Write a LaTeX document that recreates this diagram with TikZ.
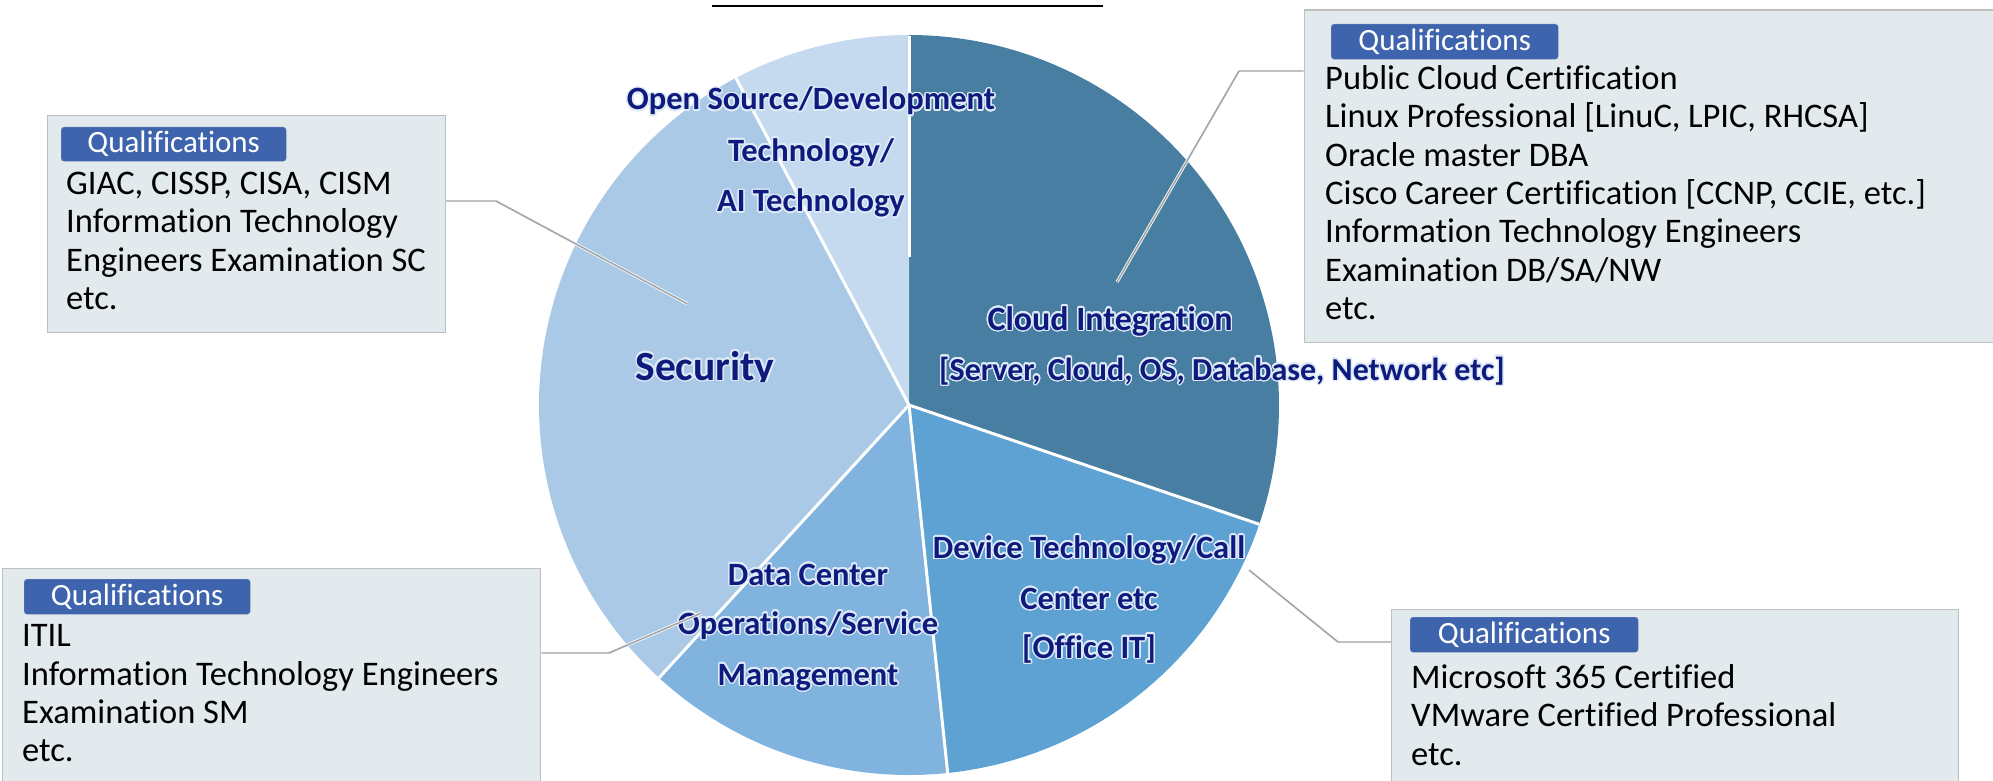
\documentclass[tikz,border=0pt]{standalone}
\usepackage{fontspec}
\setmainfont{Carlito}[Ligatures={NoCommon,NoContextual,NoRequired}]
\usepackage{contour}
\contourlength{1.4pt}
\contournumber{32}
\definecolor{cloudc}{RGB}{71,126,161}
\definecolor{devc}{RGB}{94,162,211}
\definecolor{dcc}{RGB}{128,180,223}
\definecolor{secc}{RGB}{169,201,231}
\definecolor{ossc}{RGB}{197,218,238}
\definecolor{boxfill}{RGB}{227,234,237}
\definecolor{boxborder}{RGB}{190,190,190}
\definecolor{tagc}{RGB}{62,100,173}
\definecolor{labelc}{RGB}{14,27,125}
\definecolor{glowc}{RGB}{222,234,247}
\definecolor{calloutc}{RGB}{160,160,160}
\newcommand\glow[1]{\contour{glowc}{#1}}
\tikzset{
  qbox/.style={draw=boxborder, fill=boxfill, line width=1.3, anchor=north west, inner sep=0},
  tag/.style={fill=tagc, draw=tagc!80!white, rounded corners=3, text=white,
    font=\fontsize{31}{31}\selectfont, anchor=north west, inner sep=0},
  body/.style={font=\fontsize{34.5}{38}\selectfont, anchor=base west, inner sep=0, text=black},
  pielabel/.style={font=\bfseries\fontsize{32.5}{33}\selectfont, text=labelc, anchor=base, inner sep=0},
  callout/.style={draw=calloutc, line width=1.4},
  halo/.style={draw=white!60!glowc, line width=3.2},
  sep/.style={draw=white, line width=3}
}
\begin{document}
\begin{tikzpicture}[x=1pt,y=1pt]
\useasboundingbox (0,0) rectangle (1993,-781);
\clip (0,0) rectangle (1993,-781);

% top rule
\draw[line width=2.7] (712,-6) -- (1103,-6);

% pie
\coordinate (O) at (909,-405);
\def\R{370}
\fill[cloudc] (O) -- ++(90:\R) arc[start angle=90,end angle=-18.8,radius=\R] -- cycle;
\fill[devc] (O) -- ++(-18.8:\R) arc[start angle=-18.8,end angle=-84,radius=\R] -- cycle;
\fill[dcc] (O) -- ++(-84:\R) arc[start angle=-84,end angle=-132.5,radius=\R] -- cycle;
\fill[secc] (O) -- ++(-132.5:\R) arc[start angle=-132.5,end angle=-242.1,radius=\R] -- cycle;
\fill[ossc] (O) -- ++(117.9:\R) arc[start angle=117.9,end angle=90,radius=\R] -- cycle;
\draw[sep] (O) -- ++(-18.8:\R);
\draw[sep] (O) -- ++(-84:\R);
\draw[sep] (O) -- ++(-132.5:\R);
\draw[sep] (O) -- ++(117.9:\R);
\draw[sep] (909,-36) -- (909,-257);

% pie labels
\node[pielabel] (l1) at (811,-110) {\glow{Open Source/Development}};
\node[pielabel] (l2) at (811,-161) {\glow{Technology/}};
\node[pielabel] (l3) at (811,-211.7) {\glow{AI Technology}};
\begin{scope}
\clip (560,-300) rectangle (860,-381);
\node[pielabel, font=\bfseries\fontsize{41.5}{42}\selectfont] (l4) at (705,-380) {\glow{Security}};
\end{scope}
\node[pielabel, font=\bfseries\fontsize{34}{34}\selectfont] (l5) at (1110,-330) {\glow{Cloud Integration}};
\node[pielabel, font=\bfseries\fontsize{32}{32}\selectfont] (l6) at (1222,-380) {\glow{[Server, Cloud, OS, Database, Network etc]}};
\node[pielabel] (l7) at (1089,-558.3) {\glow{Device Technology/Call}};
\node[pielabel] (l8) at (1089,-609.3) {\glow{Center etc}};
\node[pielabel] (l9) at (1089,-658) {\glow{[Office IT]}};
\node[pielabel] (l10) at (808,-585) {\glow{Data Center}};
\node[pielabel] (l11) at (808,-634) {\glow{Operations/Service}};
\node[pielabel] (l12) at (808,-685) {\glow{Management}};

% boxes
\node[qbox, minimum width=398, minimum height=217] (secbox) at (46.5,-115) {};
\node[qbox, minimum width=720, minimum height=332.4] (cloudbox) at (1303.6,-9.3) {};
\node[qbox, minimum width=538, minimum height=260] (dcbox) at (2,-567.7) {};
\node[qbox, minimum width=567, minimum height=200] (devbox) at (1391,-609) {};

% tags
\node[tag, minimum width=225, minimum height=34] (t1) at (61,-127) {Qualifications};
\node[tag, minimum width=227, minimum height=35] (t2) at (1331,-24) {Qualifications};
\node[tag, minimum width=226, minimum height=35] (t3) at (24,-579) {Qualifications};
\node[tag, minimum width=228, minimum height=35] (t4) at (1410,-617) {Qualifications};

% body text
\node[body] (s1) at (66,-194) {GIAC, CISSP, CISA, CISM};
\node[body] (s2) at (66,-232.5) {Information Technology};
\node[body] (s3) at (66,-271) {Engineers Examination SC};
\node[body] (s4) at (66,-309.5) {etc.};

\node[body] (c1) at (1325,-89.3) {Public Cloud Certification};
\node[body] (c2) at (1325,-127.6) {Linux Professional [LinuC, LPIC, RHCSA]};
\node[body] (c3) at (1325,-166) {Oracle master DBA};
\node[body] (c4) at (1325,-204.3) {Cisco Career Certification [CCNP, CCIE, etc.]};
\node[body] (c5) at (1325,-242.6) {Information Technology Engineers};
\node[body] (c6) at (1325,-281) {Examination DB/SA/NW};
\node[body] (c7) at (1325,-319.3) {etc.};

\node[body] (d1) at (22,-646.7) {ITIL};
\node[body] (d2) at (22,-685) {Information Technology Engineers};
\node[body] (d3) at (22,-723.3) {Examination SM};
\node[body] (d4) at (22,-761.7) {etc.};

\node[body] (v1) at (1411,-688.3) {Microsoft 365 Certified};
\node[body] (v2) at (1411,-726.7) {VMware Certified Professional};
\node[body] (v3) at (1411,-765) {etc.};

% callouts
\coordinate (k1a) at (496,-201);   \coordinate (k1b) at (687.5,-304);
\coordinate (k2a) at (1239,-71);   \coordinate (k2b) at (1117,-282);
\coordinate (k3a) at (609,-653);   \coordinate (k3b) at (701.5,-613);
\coordinate (k4a) at (1338,-642);  \coordinate (k4b) at (1249,-570);
\draw[halo] (k1a) -- (k1b);
\draw[halo] (k2a) -- (k2b);
\draw[halo] (k3a) -- (k3b);
\draw[halo] (k4a) -- (k4b);
\draw[callout] (k1a -| secbox.east) -- (k1a) -- (k1b);
\draw[callout] (k2a -| cloudbox.west) -- (k2a) -- (k2b);
\draw[callout] (k3a -| dcbox.east) -- (k3a) -- (k3b);
\draw[callout] (k4a -| devbox.west) -- (k4a) -- (k4b);
\end{tikzpicture}
\end{document}
